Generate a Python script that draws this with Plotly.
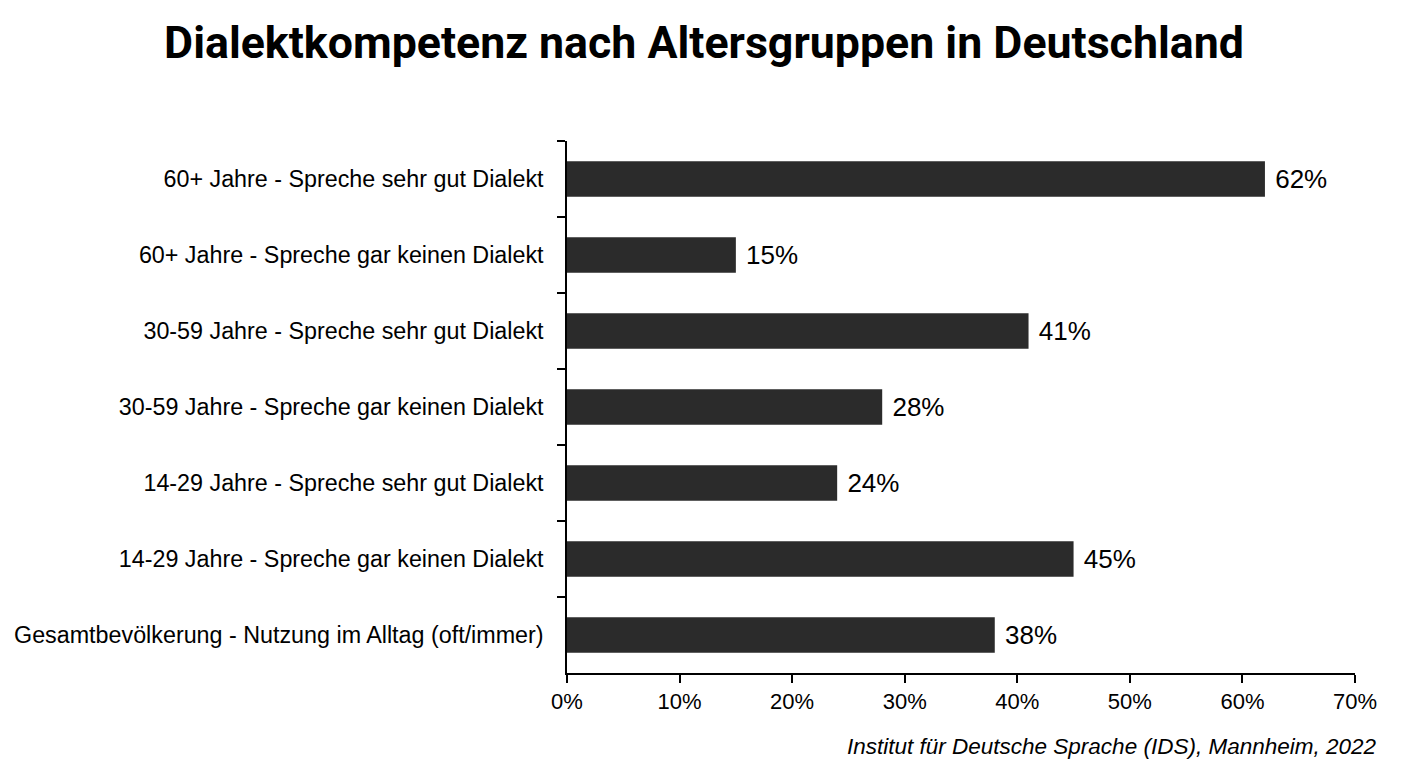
import plotly.graph_objects as go

categories = [
    "60+ Jahre - Spreche sehr gut Dialekt",
    "60+ Jahre - Spreche gar keinen Dialekt",
    "30-59 Jahre - Spreche sehr gut Dialekt",
    "30-59 Jahre - Spreche gar keinen Dialekt",
    "14-29 Jahre - Spreche sehr gut Dialekt",
    "14-29 Jahre - Spreche gar keinen Dialekt",
    "Gesamtbevölkerung - Nutzung im Alltag (oft/immer)",
]
values = [62, 15, 41, 28, 24, 45, 38]
x_ticks = [0, 10, 20, 30, 40, 50, 60, 70]
x_tick_labels = [f"{v}%" for v in x_ticks]

fig = go.Figure(go.Bar(
    x=values,
    y=categories,
    orientation="h",
    marker=dict(color="#2b2b2b", line=dict(width=0)),
    width=0.47,
    text=[f" {v}%" for v in values],
    textposition="outside",
    textfont=dict(family="Liberation Sans, Arial", size=26, color="black"),
    cliponaxis=False,
))

fig.update_layout(
    width=1408, height=768,
    paper_bgcolor="white", plot_bgcolor="white",
    margin=dict(l=567, r=53, t=141, b=95),
    showlegend=False,
    title=dict(
        text="<b>Dialektkompetenz nach Altersgruppen in Deutschland</b>",
        x=0.5, xanchor="center", y=0.945, yanchor="middle",
        font=dict(family="Roboto", size=44.7, color="black"),
    ),
    xaxis=dict(
        range=[0, 70], tickvals=x_ticks, ticktext=x_tick_labels,
        showgrid=False, zeroline=False,
        showline=True, linecolor="black", linewidth=1.5,
        ticks="outside", ticklen=8, tickcolor="black", tickwidth=1.5,
        tickfont=dict(family="Liberation Sans, Arial", size=22, color="black"),
    ),
    yaxis=dict(
        categoryorder="array", categoryarray=categories,
        autorange="reversed",
        showgrid=False, zeroline=False,
        showline=True, linecolor="black", linewidth=1.5,
        ticks="outside", ticklen=8, tickcolor="black", tickwidth=1.5,
        tickson="boundaries",
        tickfont=dict(family="Liberation Sans, Arial", size=23.3, color="black"),
        ticklabelstandoff=17,
    ),
    annotations=[dict(
        text="<i>Institut für Deutsche Sprache (IDS), Mannheim, 2022</i>",
        xref="paper", yref="paper", x=1.029, y=-0.11,
        xanchor="right", yanchor="top", showarrow=False,
        font=dict(family="Liberation Sans, Arial", size=22.5, color="black"),
    )],
)

fig.write_html("out.html")
